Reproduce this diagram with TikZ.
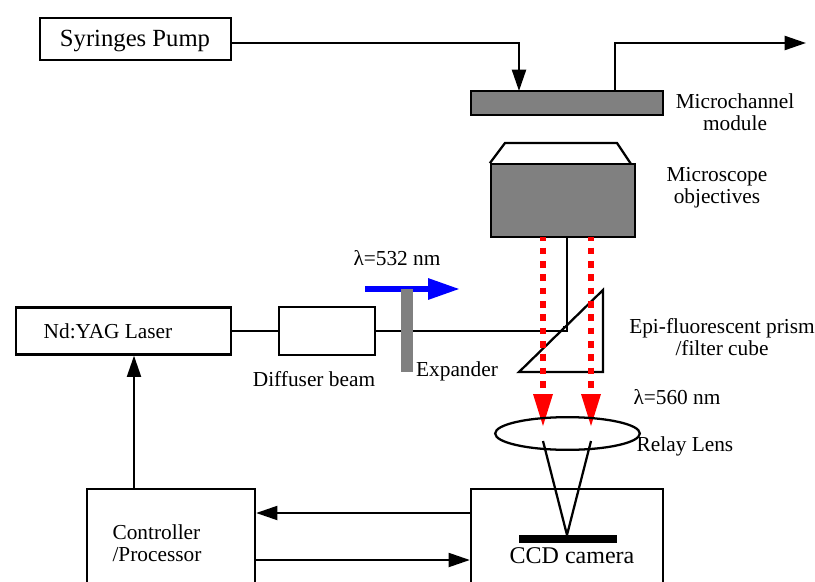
\documentclass[tikz,border=0pt]{standalone}
\usepackage{amsmath}
\usepackage{xcolor}
\usepackage{fontspec}
\setmainfont{Liberation Serif}
\usetikzlibrary{arrows.meta,positioning,calc,shapes.geometric}

\begin{document}
\begin{tikzpicture}[
  x=0.75pt, y=-0.75pt,
  >={Triangle[length=16pt,width=10.5pt]},
  line width=1.7pt,
  font=\fontsize{16}{16.5}\selectfont,
  box/.style={draw, minimum height=#1*0.75pt, inner sep=0pt},
  graybox/.style={draw, fill=gray, inner sep=0pt},
  lbl/.style={align=center, inner sep=0pt},
  arrow/.style={->},
  redbeam/.style={red, line width=5pt, dash pattern=on 5pt off 5pt, dash phase=2pt}
]
\clip (0,0) rectangle (815,582);

% pump and microchannel
\node[box=42, minimum width=143.25pt] (pump) at (135.5,39) {};
\node[lbl, font=\fontsize{18.5}{20}\selectfont] (pumplab) at (135,41) {Syringes Pump};
\node[graybox, minimum width=144pt, minimum height=18pt] (chan) at (567,103) {};
\coordinate (inlet) at (519,91);
\coordinate (outlet) at (615,91);
\coordinate (outend) at (806,43);
\draw[arrow] (pump.east |- outend) -| (inlet);
\draw[arrow] (outlet) |- (outend);
\node[lbl] (chanlab) at (735,112) {Microchannel\\module};

% objective
\node[graybox, minimum width=108pt, minimum height=54.3pt] (obj) at (563,200.5) {};
\coordinate (capa) at (505,143);
\coordinate (capb) at (617,143);
\coordinate (capc) at (631,164);
\draw (obj.north west) -- (capa) -- (capb) -- (capc);
\node[lbl] (objlab) at (717,188) {Microscope\\objectives};

% laser line
\node[box=47, minimum width=161.25pt] (laser) at (123.5,331) {};
\node[lbl] (laserlab) at (108,331) {Nd:YAG Laser};
\node[box=48, minimum width=72pt] (diff) at (327,331) {};
\node[lbl] (difflab) at (314,379) {Diffuser beam};
\coordinate (bend) at (567,331);
\coordinate (objout) at (567,237);
\draw (laser.east) -- (diff.west);
\draw (diff.east |- bend) -- (bend) -- (objout);
\draw[line width=0.75pt] (563,331) -- (563,326) -- (567,326);

% expander
\coordinate (bluea) at (365,289);
\coordinate (blueb) at (460,289);
\draw[-{Triangle[length=24pt,width=15pt]}, blue, line width=4.5pt] (bluea) -- (blueb);
\node[fill=gray, minimum width=9pt, minimum height=62.25pt, inner sep=0pt] (exp) at (407,330.5) {};
\node[lbl, anchor=west] (explab) at (415,371) {Expander};
\node[lbl] (l532) at (397,258) {λ=532 nm};

% prism
\coordinate (pa) at (519,372);
\coordinate (pb) at (603,290);
\coordinate (pc) at (603,372);
\draw (pa) -- (pb) -- (pc) -- cycle;
\node[lbl] (prismlab) at (722,337) {Epi-fluorescent prism\\/filter cube};

% red beams
\coordinate (ra) at (543,237);
\coordinate (rb) at (591,237);
\coordinate (rc) at (543,394);
\coordinate (rd) at (591,394);
\coordinate (re) at (543,426);
\coordinate (rf) at (591,426);
\draw[redbeam] (ra) -- (rc);
\draw[redbeam] (rb) -- (rd);
\fill[red] (533,394) -- (553,394) -- (re) -- cycle;
\fill[red] (581,394) -- (601,394) -- (rf) -- cycle;
\node[lbl] (l560) at (677,397) {λ=560 nm};

% relay lens
\node[draw, ellipse, minimum width=108.5pt, minimum height=24.5pt, inner sep=0pt] (lens) at (567.5,433.5) {};
\node[lbl] (lenslab) at (685,446) {Relay Lens};

% camera and controller
\node[box=100, minimum width=144pt] (cam) at (567,539) {};
\node[box=100, minimum width=126pt] (ctrl) at (171,539) {};
\node[fill=black, minimum width=73.5pt, minimum height=6pt, inner sep=0pt] (ccd) at (568,539) {};
\node[lbl, font=\fontsize{18}{20}\selectfont] (camlab) at (572,556) {CCD camera};
\node[lbl, align=left] (ctrllab) at (157,543) {Controller\\/Processor};
\coordinate (foc) at (567,535);
\coordinate (la) at (543,441);
\coordinate (lb) at (591,441);
\draw (la) -- (foc) -- (lb);
\coordinate (ctrlin) at (ctrl.east |- 0,513);
\coordinate (ctrlout) at (ctrl.east |- 0,560);
\draw[arrow] (cam.west |- ctrlin) -- (ctrlin);
\draw[arrow] (ctrlout) -- (cam.west |- ctrlout);
\coordinate (laserin) at (laser.south -| 134,0);
\draw[arrow] (ctrl.north -| laserin) -- (laserin);
\end{tikzpicture}
\end{document}
